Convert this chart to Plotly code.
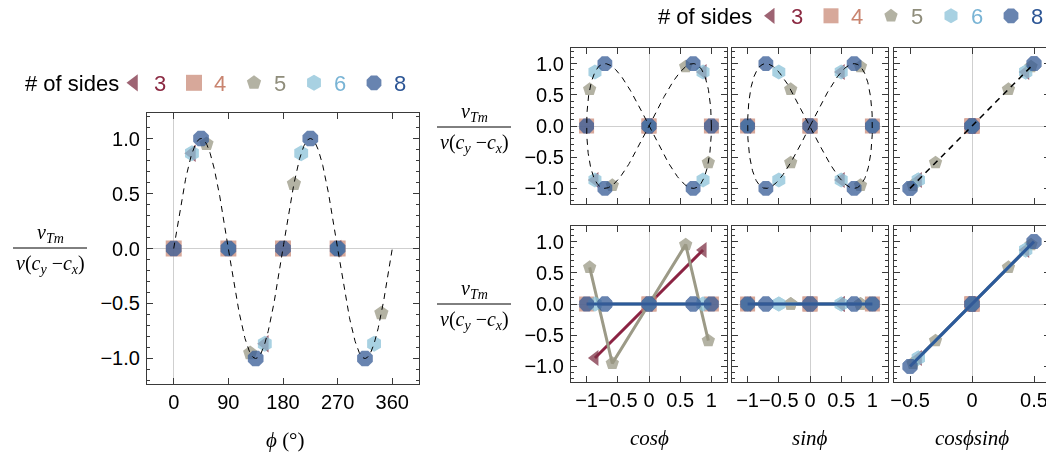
import numpy as np
import plotly.graph_objects as go

# page body has an 8px margin; figure is sized to fit the 1054x457 window
OFF = 8
W, H = 1054 - OFF, 457 - OFF

SIDES = [3, 4, 5, 6, 8]

# polar angle of each facet normal (degrees)
PHI = {
    3: [30, 150, 270],
    4: [0, 90, 180, 270],
    5: [54, 126, 198, 270, 342],
    6: [30, 90, 150, 210, 270, 330],
    8: [0, 45, 90, 135, 180, 225, 270, 315],
}
# normalised velocity  v_Tm / v(c_y - c_x)
VEL = {
    3: [0.866, -0.866, 0.0],
    4: [0.0, 0.0, 0.0, 0.0],
    5: [0.951, -0.951, 0.588, 0.0, -0.588],
    6: [0.866, 0.0, -0.866, 0.866, 0.0, -0.866],
    8: [0.0, 1.0, 0.0, -1.0, 0.0, 1.0, 0.0, -1.0],
}
COS = {
    3: [0.866, -0.866, 0.0],
    4: [1.0, 0.0, -1.0, 0.0],
    5: [0.588, -0.588, -0.951, 0.0, 0.951],
    6: [0.866, 0.0, -0.866, -0.866, 0.0, 0.866],
    8: [1.0, 0.707, 0.0, -0.707, -1.0, -0.707, 0.0, 0.707],
}
SIN = {
    3: [0.5, 0.5, -1.0],
    4: [0.0, 1.0, 0.0, -1.0],
    5: [0.809, 0.809, -0.309, -1.0, -0.309],
    6: [0.5, 1.0, 0.5, -0.5, -1.0, -0.5],
    8: [0.0, 0.707, 1.0, 0.707, 0.0, -0.707, -1.0, -0.707],
}
COSSIN = {
    3: [0.433, -0.433, 0.0],
    4: [0.0, 0.0, 0.0, 0.0],
    5: [0.476, -0.476, 0.294, 0.0, -0.294],
    6: [0.433, 0.0, -0.433, 0.433, 0.0, -0.433],
    8: [0.0, 0.5, 0.0, -0.5, 0.0, 0.5, 0.0, -0.5],
}
# bottom row: velocity component along each regressor
VEL_COS = {
    3: [0.866, -0.866, 0.0],
    4: [0.0, 0.0, 0.0, 0.0],
    5: [0.951, -0.951, 0.588, 0.0, -0.588],
    6: [0.0, 0.0, 0.0, 0.0, 0.0, 0.0],
    8: [0.0, 0.0, 0.0, 0.0, 0.0, 0.0, 0.0, 0.0],
}
VEL_SIN = {
    3: [0.0, 0.0, 0.0],
    4: [0.0, 0.0, 0.0, 0.0],
    5: [0.0, 0.0, 0.0, 0.0, 0.0],
    6: [0.0, 0.0, 0.0, 0.0, 0.0, 0.0],
    8: [0.0, 0.0, 0.0, 0.0, 0.0, 0.0, 0.0, 0.0],
}
VEL_COSSIN = VEL

# styling
SYMBOL = {3: "triangle-left", 4: "square", 5: "pentagon", 6: "hexagon", 8: "octagon"}
SIZE = {3: 15, 4: 16, 5: 15, 6: 16, 8: 17}
MCOL = {3: "#7E3044", 4: "#CA8B78", 5: "#9A9884", 6: "#8BC2D8", 8: "#365B96"}
TCOL = {3: "#8B2942", 4: "#C9846F", 5: "#8F8D7B", 6: "#79B4D5", 8: "#2C5595"}
LCOL = {3: "#8B2343", 4: "#CA8B78", 5: "#9C9A87", 6: "#8BC2D8", 8: "#2C5A9A"}
OPAC = 0.75

# theory curve parameter
t = np.linspace(0, 2 * np.pi, 721)
t_deg = np.degrees(t)
t_half = np.linspace(-np.pi / 4, np.pi / 4, 181)

fig = go.Figure()

# screen pixel -> paper fraction
def px_x(p):
    return (p - OFF) / W

def px_y(p):
    return 1 - (p - OFF) / H

SANS = "Liberation Sans, Arial, sans-serif"
SERIF = "Liberation Serif, Times New Roman, serif"
DASH = "6px,5px"

# ---------------- left panel -----------------
for n in SIDES:
    fig.add_trace(go.Scatter(
        x=PHI[n], y=VEL[n], mode="markers", xaxis="x", yaxis="y",
        name=f"<span style='color:{TCOL[n]}'>{n}</span>", legend="legend",
        opacity=OPAC,
        marker=dict(symbol=SYMBOL[n], size=SIZE[n], color=MCOL[n], line=dict(width=0)),
    ))
fig.add_trace(go.Scatter(x=t_deg, y=np.sin(2 * t), mode="lines", xaxis="x", yaxis="y",
                         showlegend=False, line=dict(color="black", width=1, dash=DASH)))

# ---------------- right panels -----------------
cols = [COS, SIN, COSSIN]
bottom = [VEL_COS, VEL_SIN, VEL_COSSIN]
curves = [(np.cos(t), np.sin(2 * t)), (np.sin(t), np.sin(2 * t)),
          (np.cos(t_half) * np.sin(t_half), np.sin(2 * t_half))]
for c in range(3):
    xa_top, ya_top = f"x{c + 2}", f"y{c + 2}"
    xa_bot, ya_bot = f"x{c + 5}", f"y{c + 5}"
    for n in SIDES:
        fig.add_trace(go.Scatter(
            x=cols[c][n], y=VEL[n], mode="markers", xaxis=xa_top, yaxis=ya_top,
            name=f"<span style='color:{TCOL[n]}'>{n}</span>", legend="legend2",
            showlegend=(c == 0), opacity=OPAC,
            marker=dict(symbol=SYMBOL[n], size=SIZE[n] - 1, color=MCOL[n], line=dict(width=0)),
        ))
    cx, cy = curves[c]
    fig.add_trace(go.Scatter(x=cx, y=cy, mode="lines", xaxis=xa_top, yaxis=ya_top, showlegend=False,
                             line=dict(color="black", width=1.5 if c == 2 else 1, dash=DASH)))
    for n in SIDES:
        xs = np.array(cols[c][n])
        ys = np.array(bottom[c][n])
        order = np.argsort(xs, kind="stable")
        fig.add_trace(go.Scatter(
            x=xs[order], y=ys[order], mode="lines", xaxis=xa_bot, yaxis=ya_bot, showlegend=False,
            line=dict(color=LCOL[n], width=3),
        ))
        fig.add_trace(go.Scatter(
            x=xs[order], y=ys[order], mode="markers", xaxis=xa_bot, yaxis=ya_bot, showlegend=False,
            opacity=OPAC,
            marker=dict(symbol=SYMBOL[n], size=SIZE[n] - 1, color=MCOL[n], line=dict(width=0)),
        ))

# ---------------- axes -----------------
FRAME = "#3a3a3a"
TICKFONT = dict(family=SANS, size=20, color="black")

def axis(domain, rng, anchor, **kw):
    d = dict(domain=domain, range=rng, anchor=anchor, showgrid=False,
             zeroline=True, zerolinecolor="#cfcfcf", zerolinewidth=1,
             showline=True, linecolor=FRAME, linewidth=1.2, mirror="allticks",
             ticks="inside", ticklen=6, tickwidth=1, tickcolor=FRAME,
             tickfont=TICKFONT, automargin=False)
    d.update(kw)
    return d

YT = dict(tickvals=[-1, -0.5, 0, 0.5, 1], ticktext=["\u22121.0", "\u22120.5", "0.0", "0.5", "1.0"],
          minor=dict(ticks="inside", dtick=0.1, ticklen=3, tickcolor=FRAME, showgrid=False),
          ticklabelstandoff=2)
XT1 = dict(tickvals=[-1, -0.5, 0, 0.5, 1], ticktext=["\u22121", "\u22120.5", "0", "0.5", "1"], tickangle=0)
XT3 = dict(tickvals=[-0.5, 0, 0.5], ticktext=["\u22120.5", "0", "0.5"], tickangle=0)

layout = dict(
    width=W, height=H, margin=dict(l=0, r=0, t=0, b=0, autoexpand=False),
    paper_bgcolor="white", plot_bgcolor="white",
    font=dict(family=SANS, size=20, color="black"),
)
# left
layout["xaxis"] = axis([px_x(147), px_x(419)], [-44, 404], "y",
                       tickvals=[0, 90, 180, 270, 360], ticktext=["0", "90", "180", "270", "360"],
                       tickangle=0)
layout["yaxis"] = axis([px_y(384), px_y(113)], [-1.232, 1.232], "x", **YT)

colx = [(571, 727), (732, 888), (894, 1050)]
xr = [[-1.25, 1.25], [-1.25, 1.25], [-0.629, 0.629]]
xt = [XT1, XT1, XT3]
rows = [(48, 204), (226, 382)]
for r in range(2):
    for c in range(3):
        k = 2 + r * 3 + c
        xa = axis([px_x(colx[c][0]), px_x(colx[c][1])], xr[c], f"y{k}",
                  showticklabels=(r == 1), **xt[c])
        ya = axis([px_y(rows[r][1]), px_y(rows[r][0])], [-1.25, 1.25], f"x{k}",
                  showticklabels=(c == 0), **YT)
        layout[f"xaxis{k}"] = xa
        layout[f"yaxis{k}"] = ya

LEG = dict(orientation="h", xanchor="left", yanchor="middle",
           bgcolor="rgba(0,0,0,0)", itemsizing="trace", entrywidth=15,
           font=dict(family=SANS, size=22))
layout["legend"] = dict(LEG, x=px_x(114), y=px_y(83))
layout["legend2"] = dict(LEG, x=px_x(751), y=px_y(16))

fig.update_layout(**layout)

# ---------------- titles / fractions -----------------
ann = []
LEG_TITLE = "# of sides"
for lx, ly in [(23, 83), (656, 16)]:
    ann.append(dict(text=LEG_TITLE, x=px_x(lx), y=px_y(ly), xref="paper", yref="paper", showarrow=False,
                    font=dict(family=SANS, size=22, color="black"), xanchor="left", yanchor="middle"))

def frac(cx, cy, half):
    ann.append(dict(text="<i>v</i><sub><i>Tm</i></sub>", x=px_x(cx), y=px_y(cy - 15), xref="paper", yref="paper",
                    showarrow=False, font=dict(family=SERIF, size=20), xanchor="center", yanchor="middle"))
    ann.append(dict(text="<i>v</i>(<i>c</i><sub><i>y</i></sub> \u2212<i>c</i><sub><i>x</i></sub>)",
                    x=px_x(cx), y=px_y(cy + 16), xref="paper", yref="paper",
                    showarrow=False, font=dict(family=SERIF, size=20), xanchor="center", yanchor="middle"))
    fig.add_shape(type="line", xref="paper", yref="paper", x0=px_x(cx - half), x1=px_x(cx + half),
                  y0=px_y(cy), y1=px_y(cy), line=dict(color="black", width=1))

frac(50, 248, 37)
frac(474, 127, 37)
frac(474, 304, 37)

def xtitle(text, cx, cy):
    ann.append(dict(text=text, x=px_x(cx), y=px_y(cy), xref="paper", yref="paper", showarrow=False,
                    font=dict(family=SERIF, size=21), xanchor="center", yanchor="middle"))

xtitle("<i>\u03d5</i> (\u00b0)", 285, 440)
xtitle("<i>cos\u03d5</i>", 649, 438)
xtitle("<i>sin\u03d5</i>", 810, 438)
xtitle("<i>cos\u03d5sin\u03d5</i>", 972, 438)

fig.update_layout(annotations=ann)
fig.write_html("out.html")
